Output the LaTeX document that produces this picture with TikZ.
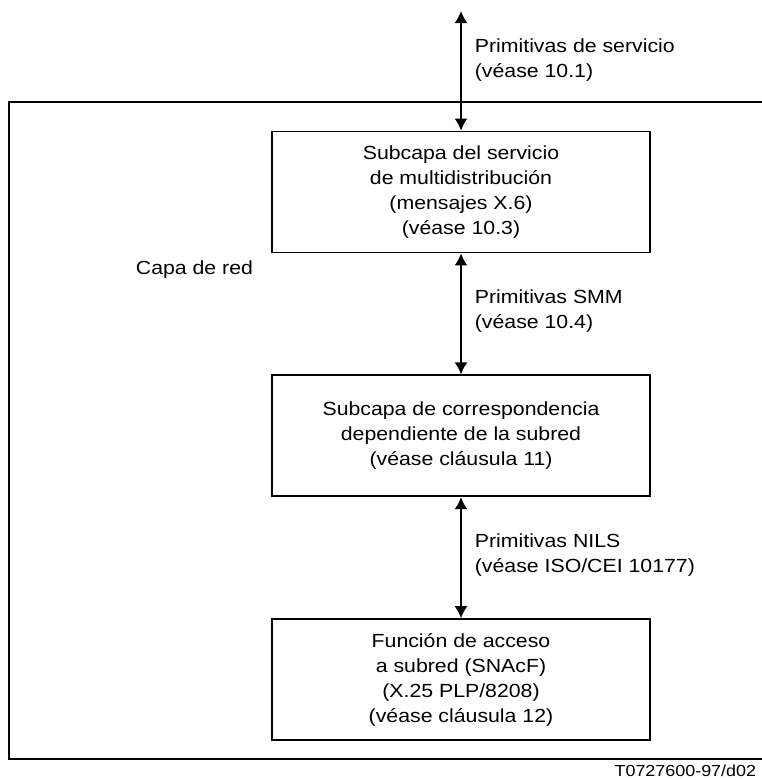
\documentclass[tikz,border=0pt]{standalone}
\usepackage{fontspec}
\setmainfont{Liberation Sans}[FakeStretch=1.12]
\usetikzlibrary{arrows.meta, positioning}

\tikzset{
    capabox/.style={draw, line width=1.8pt, minimum width=378pt, minimum height=121pt,
                    inner sep=0pt, align=center},
    primlabel/.style={anchor=west, inner sep=0pt, align=left},
}

\begin{document}
\begin{tikzpicture}[x=1pt, y=-1pt, >={Latex[length=12pt,width=13pt]},
                    font=\fontsize{19}{25}\selectfont, line width=1.8pt]

    \useasboundingbox (0,0) rectangle (762,780);

    \def\gap{121pt}

    % ==========================================================
    % capa de red (marco exterior)
    % ==========================================================
    \draw (9,102) rectangle (770,759);
    \node[anchor=west, inner sep=0pt] (capa) at (135,270) {Capa de red};

    % ==========================================================
    % subcapas
    % ==========================================================
    \node[capabox] (smm) at (461,192)
         {Subcapa del servicio\\de multidistribución\\(mensajes X.6)\\(véase 10.3)};
    \node[capabox, below=\gap of smm] (sndcf)
         {Subcapa de correspondencia\\dependiente de la subred\\(véase cláusula 11)};
    \node[capabox, below=\gap of sndcf] (snacf)
         {Función de acceso\\a subred (SNAcF)\\(X.25 PLP/8208)\\(véase cláusula 12)};

    % ==========================================================
    % primitivas entre subcapas
    % ==========================================================
    \coordinate (tope) at (461,11);
    \draw[<->] (tope) -- (smm.north);
    \draw[<->] (smm.south) -- (sndcf.north);
    \draw[<->] (sndcf.south) -- (snacf.north);

    \node[primlabel] (prim1) at (474,60) {Primitivas de servicio\\(véase 10.1)};
    \node[primlabel] (prim2) at (474,311) {Primitivas SMM\\(véase 10.4)};
    \node[primlabel] (prim3) at (474,555) {Primitivas NILS\\(véase ISO/CEI 10177)};

    \node[anchor=east, inner sep=0pt, font=\fontsize{16}{18}\selectfont] (ref) at (757,771)
         {T0727600-97/d02};

\end{tikzpicture}
\end{document}
